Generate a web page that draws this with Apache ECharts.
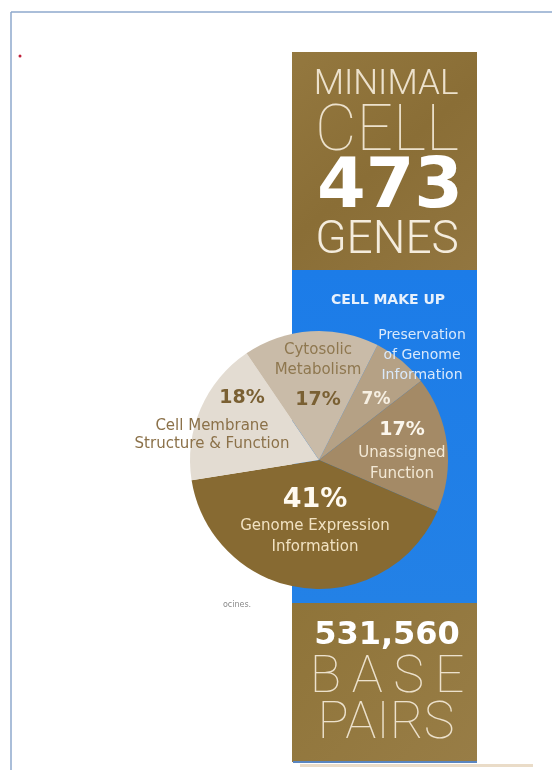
<!DOCTYPE html>
<html>
<head>
<meta charset="utf-8">
<script src="https://cdn.jsdelivr.net/npm/echarts@6/dist/echarts.min.js"></script>
<style>
  html, body { margin: 0; padding: 0; background: #fff; }
  #cellChart { width: 552px; height: 770px; }
</style>
</head>
<body>
<div id="cellChart"></div>
<script>
  // slices, clockwise from the top right
  const categories = ['Preservation of Genome Information', 'Unassigned Function', 'Genome Expression Information', 'Cell Membrane Structure & Function', 'Cytosolic Metabolism'];
  const shares = [7, 17, 41, 18, 17];
  const nameLines = [['Preservation', 'of Genome', 'Information'], ['Unassigned', 'Function'], ['Genome Expression', 'Information'], ['Cell Membrane', 'Structure & Function'], ['Cytosolic', 'Metabolism']];
  const sliceColors = ['#b5a185', '#a48a66', '#876a32', '#e3dcd2', '#c9bba8'];

  const headTexts = ['MINIMAL', 'CELL', '473', 'GENES'];
  const sectionTitle = 'CELL MAKE UP';
  const footTexts = ['531,560', 'BASE', 'PAIRS'];

  // where each label block sits (centre of block)
  const labelSpots = [[376, 400], [402, 451], [315, 521], [212, 416], [318, 380]];

  const chart = echarts.init(document.getElementById('cellChart'));

  const thin = "Roboto";
  const body = "'DejaVu Sans', sans-serif";

  function labelText(i) {
    const pct = '{p' + i + '|' + shares[i] + '%}';
    const names = nameLines[i].map(function (n) { return '{n' + i + '|' + n + '}'; }).join('\n');
    if (i === 0) return pct;                 // name is drawn outside, over the blue
    if (i === 4) return names + '\n' + pct;  // cytosolic: name above percent
    return pct + '\n' + names;
  }

  const rich = {
    p0: { fontFamily: body, fontWeight: 'bold', fontSize: 17, color: '#f6efe2', lineHeight: 24 },
    p1: { fontFamily: body, fontWeight: 'bold', fontSize: 19, color: '#fbf6ec', lineHeight: 26 },
    n1: { fontFamily: body, fontSize: 15, color: '#f3e9d6', lineHeight: 21 },
    p2: { fontFamily: body, fontWeight: 'bold', fontSize: 27, color: '#fffaf0', lineHeight: 32 },
    n2: { fontFamily: body, fontSize: 15, color: '#f1e2c2', lineHeight: 21 },
    p3: { fontFamily: body, fontWeight: 'bold', fontSize: 19, color: '#7a6033', lineHeight: 38, padding: [0, 0, 0, 60] },
    n3: { fontFamily: body, fontSize: 15, color: '#8b7149', lineHeight: 18 },
    p4: { fontFamily: body, fontWeight: 'bold', fontSize: 19, color: '#7a6033', lineHeight: 40 },
    n4: { fontFamily: body, fontSize: 15, color: '#8e774f', lineHeight: 20 }
  };

  const pieData = categories.map(function (name, i) {
    return { name: name, value: shares[i], itemStyle: { color: sliceColors[i] } };
  });

  const option = {
    animation: false,
    graphic: [
      // page frame
      { type: 'line', shape: { x1: 11, y1: 12, x2: 552, y2: 12 }, style: { stroke: '#8ea8cd', lineWidth: 1.5 } },
      { type: 'line', shape: { x1: 11, y1: 12, x2: 11, y2: 770 }, style: { stroke: '#8ea8cd', lineWidth: 1.5 } },
      { type: 'circle', shape: { cx: 20, cy: 56, r: 1.5 }, style: { fill: '#c0203a' } },
      // column
      { type: 'rect', shape: { x: 292, y: 52, width: 185, height: 219 },
        style: { fill: new echarts.graphic.LinearGradient(0, 0, 1, 1, [{ offset: 0, color: '#94783f' }, { offset: 0.5, color: '#8a6e36' }, { offset: 1, color: '#927640' }]) } },
      { type: 'rect', shape: { x: 292, y: 270, width: 185, height: 334 },
        style: { fill: new echarts.graphic.LinearGradient(0, 0, 0, 1, [{ offset: 0, color: '#1c7ce8' }, { offset: 1, color: '#2381e6' }]) } },
      { type: 'rect', shape: { x: 292, y: 603, width: 185, height: 159 },
        style: { fill: new echarts.graphic.LinearGradient(0, 0, 1, 1, [{ offset: 0, color: '#8f7439' }, { offset: 1, color: '#987d46' }]) } },
      { type: 'rect', shape: { x: 293, y: 761, width: 184, height: 2 }, style: { fill: '#5a86c0' } },
      { type: 'rect', shape: { x: 300, y: 764, width: 233, height: 3 }, style: { fill: '#eadcc8' } },
      // column texts
      { type: 'text', x: 386, y: 85, style: { text: headTexts[0], fontFamily: thin, fontWeight: 300, fontSize: 35, fill: '#ece1cc', align: 'center', verticalAlign: 'middle' } },
      { type: 'text', x: 387, y: 134, style: { text: headTexts[1], fontFamily: thin, fontWeight: 100, fontSize: 64, fill: '#ece1cc', align: 'center', verticalAlign: 'middle' } },
      { type: 'text', x: 390, y: 189, style: { text: headTexts[2], fontFamily: body, fontWeight: 'bold', fontSize: 70, fill: '#ffffff', align: 'center', verticalAlign: 'middle' } },
      { type: 'text', x: 387, y: 241, style: { text: headTexts[3], fontFamily: thin, fontWeight: 300, fontSize: 46, fill: '#f4ecdd', align: 'center', verticalAlign: 'middle' } },
      { type: 'text', x: 388, y: 300, style: { text: sectionTitle, fontFamily: body, fontWeight: 'bold', fontSize: 14, fill: '#e8f1fc', align: 'center', verticalAlign: 'middle' } },
      { type: 'text', x: 422, y: 355, z: 20, style: { text: nameLines[0].join('\n'), fontFamily: body, fontSize: 14, lineHeight: 20, fill: '#d9e9fb', align: 'center', verticalAlign: 'middle' } },
      { type: 'text', x: 387, y: 636, style: { text: footTexts[0], fontFamily: body, fontWeight: 'bold', fontSize: 32, fill: '#ffffff', align: 'center', verticalAlign: 'middle' } },
      { type: 'text', x: 387, y: 679, style: { text: footTexts[1].split('').join('\u2009'), fontFamily: thin, fontWeight: 100, fontSize: 52, fill: '#ece1cc', align: 'center', verticalAlign: 'middle' } },
      { type: 'text', x: 386, y: 725, style: { text: footTexts[2], fontFamily: thin, fontWeight: 100, fontSize: 52, fill: '#ece1cc', align: 'center', verticalAlign: 'middle' } },
      // stray scrap text on the page
      { type: 'text', x: 237, y: 605, style: { text: 'ocines.', fontFamily: body, fontSize: 8, fill: '#8a8a8a', align: 'center', verticalAlign: 'middle' } }
    ],
    series: [{
      type: 'pie',
      center: [319, 460],
      radius: 129,
      startAngle: 63,
      clockwise: true,
      silent: true,
      z: 5,
      itemStyle: { borderWidth: 0 },
      label: {
        show: true,
        position: 'inside',
        formatter: function (params) { return labelText(params.dataIndex); },
        rich: rich
      },
      labelLine: { show: false },
      labelLayout: function (params) {
        const spot = labelSpots[params.dataIndex];
        return { x: spot[0], y: spot[1], align: 'center', verticalAlign: 'middle' };
      },
      data: pieData
    }]
  };

  chart.setOption(option);
</script>
</body>
</html>
